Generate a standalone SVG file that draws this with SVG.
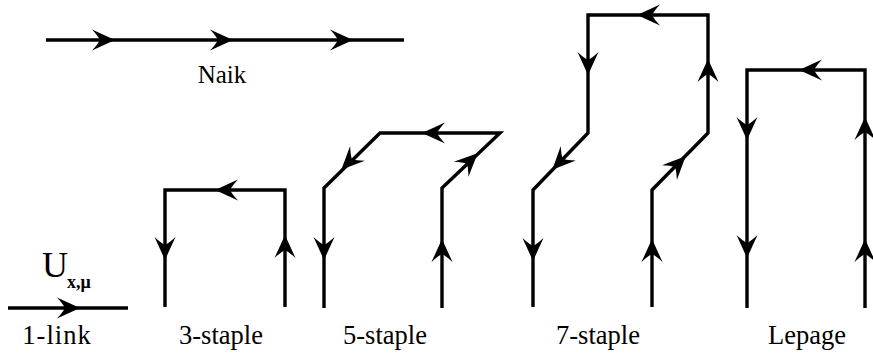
<svg xmlns="http://www.w3.org/2000/svg" width="873" height="354" viewBox="0 0 873 354">
<style>
.ln{fill:none;stroke:#000;stroke-width:3.4;stroke-linejoin:miter}
.lb{font-family:'Liberation Serif','Times New Roman',serif;font-size:26.5px;fill:#000;text-anchor:middle}
</style>
<defs>
<path id="ah" d="M1,0 Q-10,-5 -22,-10.5 Q-16,-4 -14,0 Q-16,4 -22,10.5 Q-10,5 1,0 Z" fill="#000"/>
</defs>
<rect width="873" height="354" fill="#fff"/>
<g id="connectors">
<g id="naik">
<line class="ln" x1="46" y1="40" x2="404" y2="40"/>
<use href="#ah" transform="translate(114,40)"/>
<use href="#ah" transform="translate(232,40)"/>
<use href="#ah" transform="translate(352,40)"/>
</g>
<g id="link1">
<line class="ln" x1="8" y1="308" x2="128" y2="308"/>
<use href="#ah" transform="translate(79,308)"/>
</g>
<g id="staple3">
<path class="ln" d="M165,307 V190 H285 V307"/>
<use href="#ah" transform="translate(216,190) rotate(180)"/>
<use href="#ah" transform="translate(165,259) rotate(90)"/>
<use href="#ah" transform="translate(285,236) rotate(-90)"/>
</g>
<g id="staple5">
<path class="ln" d="M324,308 V188 L380,133 H500 L442,188 V308"/>
<use href="#ah" transform="translate(423,133) rotate(180)"/>
<use href="#ah" transform="translate(342,169) rotate(135)"/>
<use href="#ah" transform="translate(324,259) rotate(90)"/>
<use href="#ah" transform="translate(442,240) rotate(-90)"/>
<use href="#ah" transform="translate(477,154) rotate(-44)"/>
</g>
<g id="staple7">
<path class="ln" d="M533,307 V190 L588,133 V15 H708 V133 L652,190 V307"/>
<use href="#ah" transform="translate(638,15) rotate(180)"/>
<use href="#ah" transform="translate(588,74) rotate(90)"/>
<use href="#ah" transform="translate(708,60) rotate(-90)"/>
<use href="#ah" transform="translate(553,169) rotate(134)"/>
<use href="#ah" transform="translate(685,157) rotate(-45)"/>
<use href="#ah" transform="translate(533,260) rotate(90)"/>
<use href="#ah" transform="translate(652,240) rotate(-90)"/>
</g>
<g id="lepage">
<path class="ln" d="M747,308 V70 H865 V308"/>
<use href="#ah" transform="translate(800,70) rotate(180)"/>
<use href="#ah" transform="translate(747,139) rotate(90)"/>
<use href="#ah" transform="translate(747,257) rotate(90)"/>
<use href="#ah" transform="translate(865,118) rotate(-90)"/>
<use href="#ah" transform="translate(865,240) rotate(-90)"/>
</g>
</g>
<g id="labels" font-family="Liberation Serif, Times New Roman, serif">
<text class="lb" x="222" y="83" style="font-size:25px">Naik</text>
<text x="42" y="277" font-family="Liberation Serif, serif" font-size="36">U</text>
<text x="67" y="288" font-family="Liberation Serif, serif" font-size="18" font-weight="bold">x,μ</text>
<text class="lb" x="57" y="344" letter-spacing="1">1-link</text>
<text class="lb" x="221" y="344">3-staple</text>
<text class="lb" x="385" y="344">5-staple</text>
<text class="lb" x="598" y="344">7-staple</text>
<text class="lb" x="807" y="344">Lepage</text>
</g>
</svg>
